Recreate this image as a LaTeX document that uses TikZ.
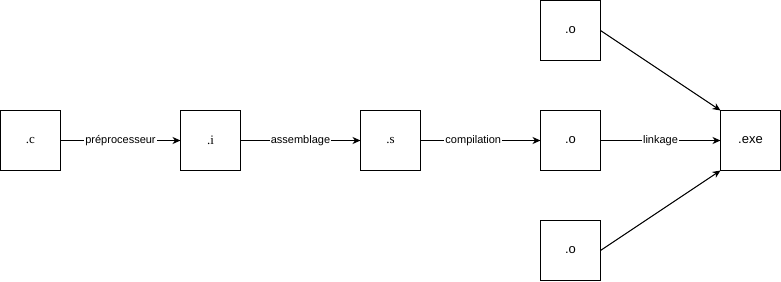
\documentclass[tikz,border=0pt]{standalone}
\usepackage{fontspec}
\setmainfont{Liberation Serif}
\setsansfont{Liberation Sans}
\usepackage{tikz}
\usetikzlibrary{positioning, arrows.meta}

\begin{document}
\begin{tikzpicture}[x=1pt, y=1pt, >={Stealth[length=8pt, width=7pt, inset=2.5pt]},
    file/.style={draw, line width=1pt, minimum size=60pt, inner sep=0pt, outer sep=0pt, font=\fontsize{13}{13}\selectfont},
    objfile/.style={file, font=\sffamily\fontsize{13}{13}\selectfont},
    etape/.style={fill=white, inner sep=1pt, font=\sffamily\fontsize{11}{11}\selectfont}]
        \useasboundingbox (0,0) rectangle (781,281);
        \node[file] (c) at (30.5,140.5) {.c};
        \node[file, right=120pt of c] (i) {.i};
        \node[file, right=120pt of i] (s) {.s};
        \node[objfile, right=120pt of s] (o) {.o};
        \node[objfile, above=50pt of o] (otop) {.o};
        \node[objfile, below=50pt of o] (obot) {.o};
        \node[objfile, right=120pt of o] (exe) {.exe};
        % chaine de compilation
        \draw[->, line width=1pt] (c) -- node[etape]{préprocesseur} (i);
        \draw[->, line width=1pt] (i) -- node[etape]{assemblage} (s);
        \draw[->, line width=1pt] (s) -- node[etape, pos=0.44]{compilation} (o);
        \draw[->, line width=1pt] (o) -- node[etape]{linkage} (exe);
        % les autres fichiers objets
        \draw[->, line width=1pt] (otop.east) -- (exe.north west);
        \draw[->, line width=1pt] (obot.east) -- (exe.south west);
\end{tikzpicture}
\end{document}
